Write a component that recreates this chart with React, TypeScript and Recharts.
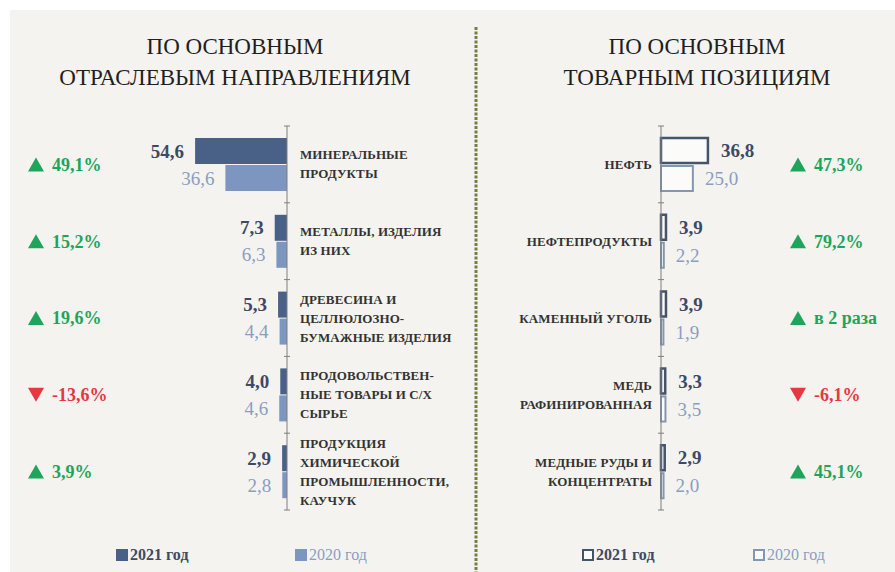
import { Bar, BarChart, LabelList, XAxis, YAxis } from "recharts";

// левая часть: по отраслям
const leftNames = [
  ["МИНЕРАЛЬНЫЕ", "ПРОДУКТЫ"],
  ["МЕТАЛЛЫ, ИЗДЕЛИЯ", "ИЗ НИХ"],
  ["ДРЕВЕСИНА И", "ЦЕЛЛЮЛОЗНО-", "БУМАЖНЫЕ ИЗДЕЛИЯ"],
  ["ПРОДОВОЛЬСТВЕН-", "НЫЕ ТОВАРЫ И С/Х", "СЫРЬЕ"],
  ["ПРОДУКЦИЯ", "ХИМИЧЕСКОЙ", "ПРОМЫШЛЕННОСТИ,", "КАУЧУК"],
];
const left2021 = [54.6, 7.3, 5.3, 4.0, 2.9];
const left2020 = [36.6, 6.3, 4.4, 4.6, 2.8];
const leftChange = ["49,1%", "15,2%", "19,6%", "-13,6%", "3,9%"];

// правая часть: по товарам
const rightNames = [
  ["НЕФТЬ"],
  ["НЕФТЕПРОДУКТЫ"],
  ["КАМЕННЫЙ УГОЛЬ"],
  ["МЕДЬ", "РАФИНИРОВАННАЯ"],
  ["МЕДНЫЕ РУДЫ И", "КОНЦЕНТРАТЫ"],
];
const right2021 = [36.8, 3.9, 3.9, 3.3, 2.9];
const right2020 = [25.0, 2.2, 1.9, 3.5, 2.0];
const rightChange = ["47,3%", "79,2%", "в 2 раза", "-6,1%", "45,1%"];

const legendLabels = ["2021 год", "2020 год"];

const SERIF = "'Liberation Serif', 'Times New Roman', serif";
const DARK = "#4a6187";
const LIGHT = "#7d96bf";
const DARK_TXT = "#3d4a66";
const LIGHT_TXT = "#8a9ec2";
const GREEN = "#1ea55b";
const RED = "#e8373f";
const AXIS = "#7f7f7f";
const LINE_H = 19;

type Row = { name: string; lines: string[]; v2021: number; v2020: number; change: string; up: boolean };

const buildRows = (names: string[][], a: number[], b: number[], ch: string[]): Row[] =>
  names.map((n, i) => ({
    name: n.join(" "),
    lines: n,
    v2021: a[i],
    v2020: b[i],
    change: ch[i],
    up: a[i] >= b[i],
  }));

const leftRows = buildRows(leftNames, left2021, left2020, leftChange);
const rightRows = buildRows(rightNames, right2021, right2020, rightChange);

const fmt = (v: number) => v.toFixed(1).replace(".", ",");

function ChangeMark({ x, y, row }: { x: number; y: number; row: Row }) {
  const color = row.up ? GREEN : RED;
  const pts = row.up
    ? `${x},${y + 7} ${x + 16},${y + 7} ${x + 8},${y - 7}`
    : `${x},${y - 7} ${x + 16},${y - 7} ${x + 8},${y + 7}`;
  return (
    <g>
      <polygon points={pts} fill={color} />
      <text x={x + 24} y={y} dy="0.35em" fill={color} fontFamily={SERIF} fontWeight="bold" fontSize={18}>
        {row.change}
      </text>
    </g>
  );
}

const BAND = 384 / 5;

function makeTick(rows: Row[], side: "left" | "right", axisX: number, textX: number, markX: number) {
  return (props: any) => {
    const y = Number(props.y);
    const row = rows.find((r) => r.name === props.payload?.value) ?? rows[props.index ?? 0];
    const idx = rows.indexOf(row);
    const y0 = y - ((row.lines.length - 1) * LINE_H) / 2;
    return (
      <g>
        <line x1={axisX - 3} x2={axisX + 3} y1={y - BAND / 2} y2={y - BAND / 2} stroke={AXIS} />
        {idx === rows.length - 1 && (
          <line x1={axisX - 3} x2={axisX + 3} y1={y + BAND / 2} y2={y + BAND / 2} stroke={AXIS} />
        )}
        <text
          fontFamily={SERIF}
          fontWeight="bold"
          fontSize={13}
          letterSpacing={0.1}
          fill="#333333"
          textAnchor={side === "left" ? "start" : "end"}
        >
          {row.lines.map((l, i) => (
            <tspan key={i} x={textX} y={y0 + i * LINE_H} dy="0.35em">
              {l}
            </tspan>
          ))}
        </text>
        <ChangeMark x={markX} y={y} row={row} />
      </g>
    );
  };
}

function makeLabel(side: "left" | "right", color: string, weight: string, gap: number) {
  return (props: any) => {
    const vb = props.viewBox ?? {};
    const x = Number(props.x ?? vb.x);
    const y = Number(props.y ?? vb.y);
    const w = Number(props.width ?? vb.width);
    const h = Number(props.height ?? vb.height);
    const lo = Math.min(x, x + w);
    const hi = Math.max(x, x + w);
    const tx = side === "left" ? lo - gap : hi + gap;
    return (
      <text
        x={tx}
        y={y + h / 2}
        dy="0.35em"
        textAnchor={side === "left" ? "end" : "start"}
        fill={color}
        fontWeight={weight}
        fontSize={19}
        fontFamily={SERIF}
      >
        {fmt(Number(props.value))}
      </text>
    );
  };
}

const titleStyle: React.CSSProperties = {
  position: "absolute",
  top: 31,
  fontFamily: SERIF,
  fontSize: 23,
  lineHeight: "31px",
  color: "#1f1f1f",
  textAlign: "center",
  whiteSpace: "nowrap",
};

function LegendItem({ x, label, color, bold, outline }: { x: number; label: string; color: string; bold: boolean; outline: boolean }) {
  return (
    <div
      style={{
        position: "absolute",
        left: x,
        top: 546,
        display: "flex",
        alignItems: "center",
        fontFamily: SERIF,
        fontSize: 16,
        fontWeight: bold ? "bold" : "normal",
        color: bold ? DARK_TXT : LIGHT_TXT,
      }}
    >
      <span
        style={{
          display: "inline-block",
          width: outline ? 8 : 12,
          height: outline ? 8 : 12,
          background: outline ? "#fbfbfa" : color,
          border: outline ? `2px solid ${color}` : "none",
          marginRight: 2,
        }}
      />
      {label}
    </div>
  );
}

export default function App() {
  const L_AXIS = 287;
  const R_AXIS = 185;
  return (
    <div style={{ position: "absolute", left: 0, top: 0, width: 895, height: 572, background: "#fff", overflow: "hidden" }}>
      <div style={{ position: "absolute", left: 10, top: 10, width: 885, height: 562, background: "#f4f3ef" }} />
      <div style={{ ...titleStyle, left: 35, width: 400 }}>
        ПО ОСНОВНЫМ
        <br />
        ОТРАСЛЕВЫМ НАПРАВЛЕНИЯМ
      </div>
      <div style={{ ...titleStyle, left: 502, width: 390 }}>
        ПО ОСНОВНЫМ
        <br />
        ТОВАРНЫМ ПОЗИЦИЯМ
      </div>
      <svg style={{ position: "absolute", left: 472, top: 0 }} width={8} height={572}>
        <line x1={4} x2={4} y1={27} y2={572} stroke="#737f46" strokeWidth={3} strokeDasharray="3 1.5" />
      </svg>

      <div style={{ position: "absolute", left: 0, top: 0 }}>
        <BarChart
          width={476}
          height={572}
          data={leftRows}
          layout="vertical"
          margin={{ top: 126, bottom: 62, left: 186, right: 9 }}
          barGap={1}
        >
          <XAxis type="number" domain={[0, 60]} reversed hide />
          <YAxis
            type="category"
            dataKey="name"
            orientation="right"
            width={180}
            axisLine={{ stroke: AXIS }}
            tickLine={false}
            tick={makeTick(leftRows, "left", L_AXIS, L_AXIS + 13, 28)}
            interval={0}
          />
          <Bar dataKey="v2021" fill={DARK} barSize={26} isAnimationActive={false}>
            <LabelList dataKey="v2021" content={makeLabel("left", DARK_TXT, "bold", 11)} />
          </Bar>
          <Bar dataKey="v2020" fill={LIGHT} barSize={26} isAnimationActive={false}>
            <LabelList dataKey="v2020" content={makeLabel("left", LIGHT_TXT, "normal", 11)} />
          </Bar>
        </BarChart>
      </div>

      <div style={{ position: "absolute", left: 476, top: 0 }}>
        <BarChart
          width={419}
          height={572}
          data={rightRows}
          layout="vertical"
          margin={{ top: 126, bottom: 62, left: 5, right: 183 }}
          barGap={3}
        >
          <XAxis type="number" domain={[0, 40]} hide />
          <YAxis
            type="category"
            dataKey="name"
            orientation="left"
            width={180}
            axisLine={{ stroke: AXIS }}
            tickLine={false}
            tick={makeTick(rightRows, "right", R_AXIS, R_AXIS - 9, 314)}
            interval={0}
          />
          <Bar dataKey="v2021" fill="#fbfbfa" stroke="#44546a" strokeWidth={2.5} barSize={25} isAnimationActive={false}>
            <LabelList dataKey="v2021" content={makeLabel("right", DARK_TXT, "bold", 13)} />
          </Bar>
          <Bar dataKey="v2020" fill="#fbfbfa" stroke="#8497b0" strokeWidth={2} barSize={25} isAnimationActive={false}>
            <LabelList dataKey="v2020" content={makeLabel("right", LIGHT_TXT, "normal", 12)} />
          </Bar>
        </BarChart>
      </div>

      <LegendItem x={116} label={legendLabels[0]} color={DARK} bold outline={false} />
      <LegendItem x={295} label={legendLabels[1]} color={LIGHT} bold={false} outline={false} />
      <LegendItem x={582} label={legendLabels[0]} color="#44546a" bold outline />
      <LegendItem x={753} label={legendLabels[1]} color="#8497b0" bold={false} outline />
    </div>
  );
}
